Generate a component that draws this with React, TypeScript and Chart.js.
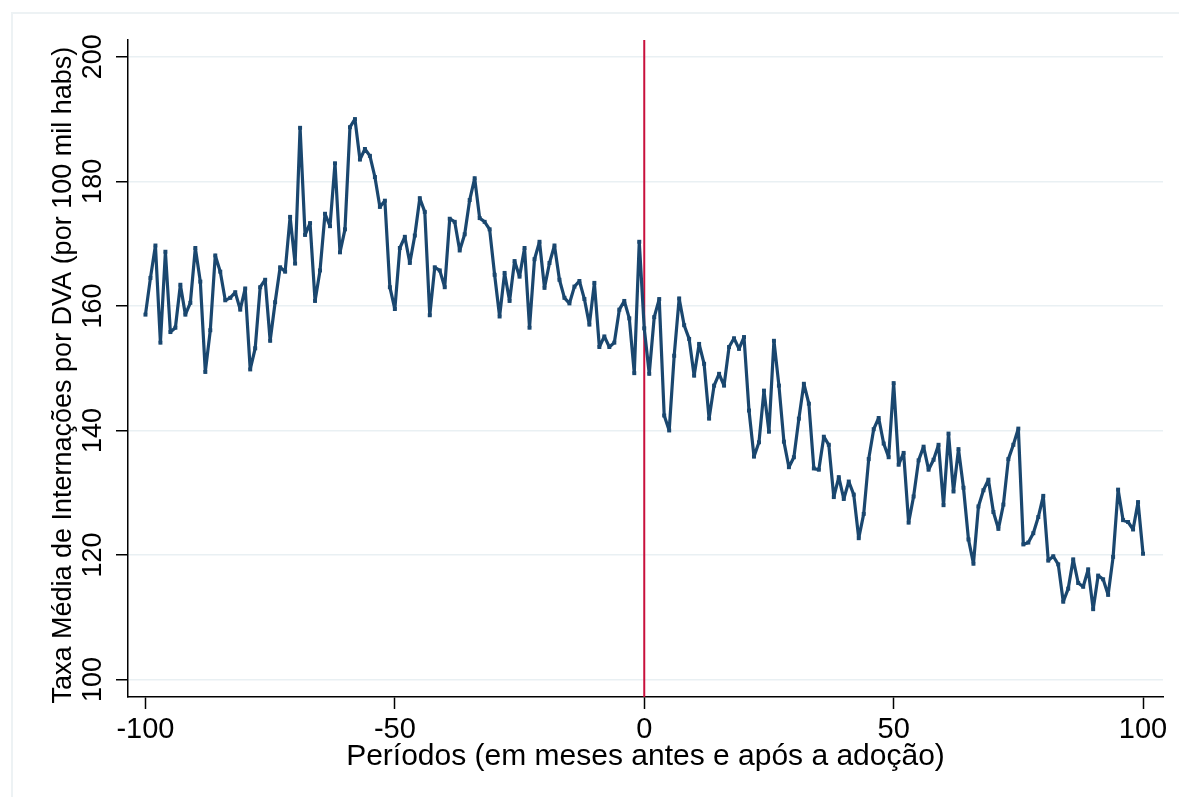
import React, { useEffect, useRef } from "react";
import { Chart, registerables } from "chart.js";

Chart.register(...registerables);

// Months before (-) and after (+) adoption
const periods: number[] = Array.from({ length: 201 }, (_, i) => i - 100);

// Mean hospitalization rate per 100k inhabitants, periods -100 .. 100
const rates: number[] = [
  158.6, 164.5, 169.7, 154.1, 168.7, 155.8, 156.5, 163.4, 158.6, 160.5,
  169.3, 163.9, 149.4, 156.1, 168.1, 165.5, 160.9, 161.3, 162.2, 159.4,
  162.8, 149.8, 153.2, 163.0, 164.2, 154.4, 160.6, 166.2, 165.5, 174.3,
  166.8, 188.6, 171.4, 173.3, 160.8, 165.7, 174.8, 172.8, 182.9, 168.6,
  172.3, 188.7, 190.0, 183.5, 185.2, 184.1, 180.7, 175.9, 176.9, 163.0,
  159.5, 169.3, 171.1, 166.9, 171.3, 177.3, 175.1, 158.5, 166.2, 165.7,
  163.0, 174.0, 173.5, 168.9, 171.5, 177.0, 180.5, 174.1, 173.5, 172.3,
  165.0, 158.3, 165.3, 160.8, 167.2, 164.7, 169.3, 156.5, 167.5, 170.3,
  162.9, 166.9, 169.7, 164.2, 161.3, 160.4, 163.1, 164.0, 161.1, 157.0,
  163.7, 153.4, 155.1, 153.4, 154.1, 159.4, 160.8, 158.0, 149.2, 170.3,
  156.4, 149.1, 158.2, 161.1, 142.4, 140.0, 152.0, 161.2, 156.9, 154.7,
  148.8, 153.9, 150.7, 141.9, 147.2, 149.1, 147.2, 153.4, 154.8, 153.1,
  155.0, 143.2, 135.8, 138.1, 146.4, 139.8, 154.4, 147.2, 138.2, 134.1,
  135.7, 141.9, 147.5, 144.3, 133.9, 133.7, 139.0, 137.7, 129.3, 132.5,
  129.0, 131.8, 129.7, 122.7, 126.6, 135.4, 140.2, 142.0, 137.9, 135.7,
  147.6, 134.5, 136.4, 125.2, 129.4, 135.2, 137.4, 133.7, 135.3, 137.7,
  128.0, 139.5, 130.2, 137.0, 130.8, 122.5, 118.6, 127.8, 130.4, 132.1,
  126.9, 124.2, 128.1, 135.4, 137.7, 140.3, 121.7, 122.0, 123.5, 126.1,
  129.5, 119.1, 119.8, 118.5, 112.5, 114.6, 119.3, 115.5, 114.9, 117.7,
  111.3, 116.7, 116.1, 113.6, 119.7, 130.5, 125.6, 125.3, 124.1, 128.5,
  120.2,
];

const xTicks: number[] = [-100, -50, 0, 50, 100];
const yTicks: number[] = [100, 120, 140, 160, 180, 200];
const adoptionPeriod = 0;

const xTitle = "Períodos (em meses antes e após a adoção)";
const yTitle = "Taxa Média de Internações por DVA (por 100 mil habs)";

const FONT = "'Liberation Sans', Arial, sans-serif";

export default function App() {
  const ref = useRef<HTMLCanvasElement>(null);

  useEffect(() => {
    const canvas = ref.current;
    if (!canvas) return;

    const extras = {
      id: "extras",
      beforeDatasetsDraw(chart: any) {
        const { ctx, chartArea, scales } = chart;
        const x = scales.x.getPixelForValue(adoptionPeriod);
        ctx.save();
        ctx.strokeStyle = "#c8103c";
        ctx.lineWidth = 2;
        ctx.beginPath();
        ctx.moveTo(x, chartArea.top);
        ctx.lineTo(x, chartArea.bottom);
        ctx.stroke();
        ctx.restore();
      },
      afterDraw(chart: any) {
        const { ctx, scales } = chart;
        const yMid =
          (scales.y.getPixelForValue(yTicks[0]) +
            scales.y.getPixelForValue(yTicks[yTicks.length - 1])) /
          2;
        ctx.save();
        ctx.translate(71, yMid + 7);
        ctx.rotate(-Math.PI / 2);
        ctx.font = `27px ${FONT}`;
        ctx.fillStyle = "#000";
        ctx.textAlign = "center";
        ctx.textBaseline = "alphabetic";
        ctx.fillText(yTitle, 0, 0);
        ctx.restore();
      },
    };

    const chart = new Chart(canvas, {
      type: "line",
      data: {
        datasets: [
          {
            data: periods.map((p, i) => ({ x: p, y: rates[i] })),
            borderColor: "#1a476f",
            backgroundColor: "#1a476f",
            borderWidth: 3.2,
            borderJoinStyle: "round",
            pointStyle: "rect",
            pointRadius: 2.8,
            pointBorderWidth: 0,
            pointBackgroundColor: "#1a476f",
            tension: 0,
            fill: false,
          },
        ],
      },
      options: {
        animation: false,
        responsive: false,
        devicePixelRatio: 1,
        layout: { padding: { top: 40, right: 16, left: 0, bottom: 0 } },
        plugins: {
          legend: { display: false },
          tooltip: { enabled: false },
        },
        scales: {
          x: {
            type: "linear",
            min: -103.5,
            max: 104,
            afterFit: (s: any) => {
              s.height = 100;
            },
            afterBuildTicks: (s: any) => {
              s.ticks = xTicks.map((v) => ({ value: v }));
            },
            grid: {
              drawOnChartArea: false,
              drawTicks: true,
              tickLength: 12,
              tickColor: "#000",
              tickWidth: 1.5,
            },
            border: { display: true, color: "#000", width: 1.5 },
            ticks: {
              font: { family: FONT, size: 29 },
              color: "#000",
              padding: 4,
              maxRotation: 0,
              autoSkip: false,
              callback: (v: any) => String(v),
            },
            title: {
              display: true,
              text: xTitle,
              color: "#000",
              font: { family: FONT, size: 30, lineHeight: 1 },
              padding: { top: 0, bottom: 25 },
            },
          },
          y: {
            type: "linear",
            min: 97.2,
            max: 202.7,
            afterFit: (s: any) => {
              s.width = 128;
            },
            afterBuildTicks: (s: any) => {
              s.ticks = yTicks.map((v) => ({ value: v }));
            },
            grid: {
              color: "#e9f0f3",
              lineWidth: 1.5,
              drawTicks: true,
              tickLength: 12,
              tickColor: "#000",
              tickWidth: 1.5,
            },
            border: { display: true, color: "#000", width: 1.5 },
            ticks: {
              font: { family: FONT, size: 27 },
              color: "#000",
              minRotation: 90,
              maxRotation: 90,
              crossAlign: "center",
              padding: 0,
              autoSkip: false,
              callback: (v: any) => String(v),
            },
          },
        },
      },
      plugins: [extras],
    } as any);

    return () => chart.destroy();
  }, []);

  return (
    <div
      style={{
        position: "absolute",
        left: 0,
        top: 0,
        width: 1179,
        height: 797,
        overflow: "hidden",
        background: "#fff",
      }}
    >
      <div
        style={{
          position: "absolute",
          left: 11,
          top: 12,
          width: 1300,
          height: 900,
          border: "2px solid #edf2f4",
        }}
      />
      <canvas
        ref={ref}
        width={1179}
        height={797}
        style={{ position: "absolute", left: 0, top: 0, width: 1179, height: 797 }}
      />
    </div>
  );
}
